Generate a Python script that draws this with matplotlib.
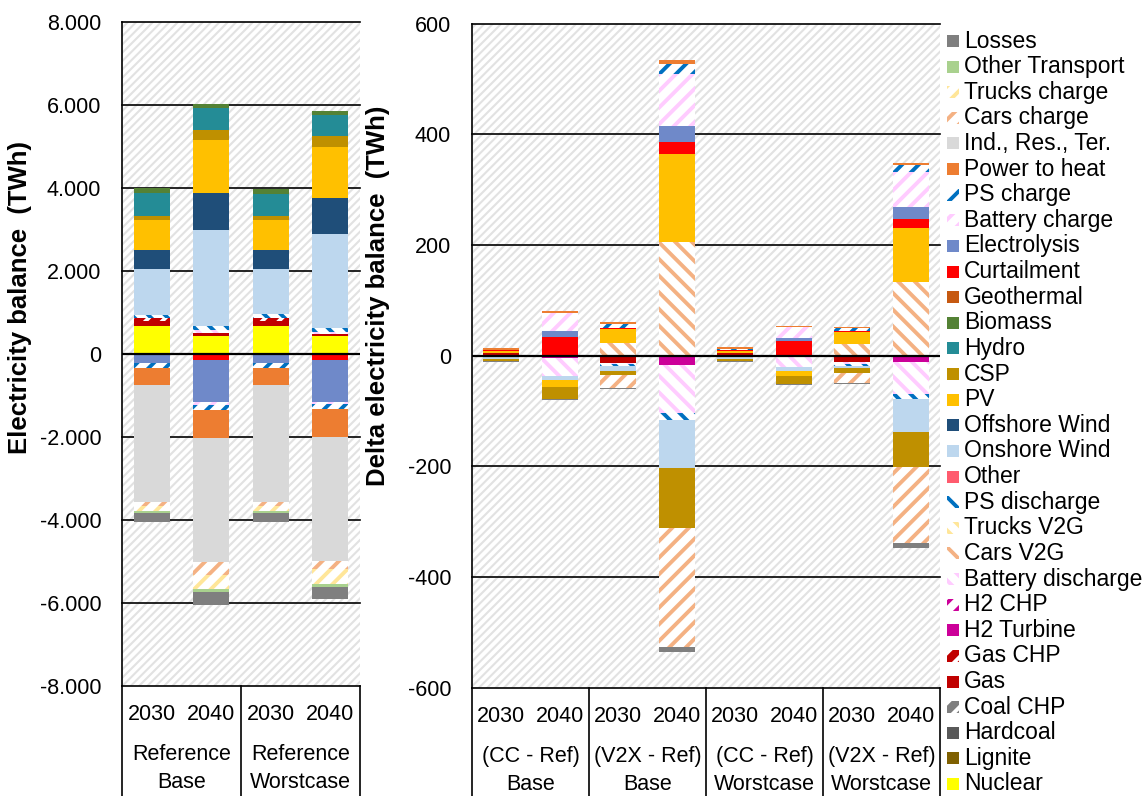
import numpy as np
import matplotlib
matplotlib.use("Agg")
import matplotlib.pyplot as plt
import matplotlib.transforms as mtransforms
from matplotlib.patches import Rectangle
from matplotlib.ticker import FuncFormatter, FixedLocator

plt.rcParams['font.family'] = ['Liberation Sans', 'DejaVu Sans']
plt.rcParams['hatch.linewidth'] = 2.8

# ---------------------------------------------------------------- data
# Series in stacking order (first series sits next to the zero line)
series = ["Nuclear", "Lignite", "Hardcoal", "Coal CHP", "Gas", "Gas CHP",
          "H2 Turbine", "H2 CHP", "Battery discharge", "Cars V2G", "Trucks V2G",
          "PS discharge", "Other", "Onshore Wind", "Offshore Wind", "PV", "CSP",
          "Hydro", "Biomass", "Geothermal", "Curtailment", "Electrolysis",
          "Battery charge", "PS charge", "Power to heat", "Ind., Res., Ter.",
          "Cars charge", "Trucks charge", "Other Transport", "Losses"]

ref_years = ["2030", "2040", "2030", "2040"]
ref_groups = [("Reference", "Base"), ("Reference", "Worstcase")]

delta_years = ["2030", "2040"] * 4
delta_groups = [("(CC - Ref)", "Base"), ("(V2X - Ref)", "Base"),
                ("(CC - Ref)", "Worstcase"), ("(V2X - Ref)", "Worstcase")]

# Reference scenarios, TWh (Base 2030, Base 2040, Worstcase 2030, Worstcase 2040)
ref_nuclear = [664, 424, 664, 424]
ref_lignite = [0, 0, 0, 0]
ref_hardcoal = [0, 0, 0, 0]
ref_coal_chp = [0, 0, 0, 0]
ref_gas = [130, 73, 136, 56]
ref_gas_chp = [70, 0, 70, 0]
ref_h2_turbine = [0, 0, 0, 0]
ref_h2_chp = [0, 0, 0, 0]
ref_battery_discharge = [0, 65, 0, 40]
ref_cars_v2g = [0, 0, 0, 0]
ref_trucks_v2g = [0, 0, 0, 0]
ref_ps_discharge = [80, 96, 80, 104]
ref_other = [0, 0, 0, 0]
ref_onshore = [1104, 2314, 1088, 2256]
ref_offshore = [456, 898, 464, 880]
ref_pv = [720, 1268, 720, 1224]
ref_csp = [104, 260, 88, 248]
ref_hydro = [536, 530, 536, 528]
ref_biomass = [120, 87, 128, 96]
ref_geothermal = [0, 0, 0, 0]
ref_curtailment = [-40, -161, -40, -160]
ref_electrolysis = [-194, -989, -194, -990]
ref_battery_charge = [0, -72, 0, -56]
ref_ps_charge = [-113, -144, -113, -120]
ref_power_to_heat = [-417, -668, -417, -684]
ref_ind_res_ter = [-2812, -2988, -2812, -2972]
ref_cars_charge = [-96, -297, -96, -200]
ref_trucks_charge = [-112, -345, -112, -361]
ref_other_transport = [-48, -81, -48, -65]
ref_losses = [-226, -297, -210, -297]

# Differences to the reference, TWh (CC/V2X x Base/Worstcase x 2030/2040)
dlt_nuclear = [0, 0, 0, 0, 0, 0, 0, 0]
dlt_lignite = [0, 0, 0, 0, 0, 0, 0, 0]
dlt_hardcoal = [0, 0, 0, 0, 0, 0, 0, 0]
dlt_coal_chp = [0, 0, 0, 0, 0, 0, 0, 0]
dlt_gas = [4, 0, -12.5, 0, 4, 0, -12, 0]
dlt_gas_chp = [0, 0, 0, 0, 0, 0, 0, 0]
dlt_h2_turbine = [0, -4, 0, -17, 0, -2, 0, -11.4]
dlt_h2_chp = [0, 0, 0, 0, 0, 0, 0, 0]
dlt_battery_discharge = [-3, -32, -3, -87, -3, -18, -2.4, -58]
dlt_cars_v2g = [0, 0, 23.5, 205, 0, 0, 21, 134]
dlt_trucks_v2g = [0, 0, 0, 0, 0, 0, 0, 0]
dlt_ps_discharge = [0, 0, -4, -12, 0, 0, -3.6, -9]
dlt_other = [0, 0, 0, 0, 0, 0, 0, 0]
dlt_onshore = [-3, -8.4, -8, -87.5, -3, -8.4, -4.2, -59]
dlt_offshore = [0, 0, 0, 0, 0, 0, 0, 0]
dlt_pv = [4.2, -11.4, 25, 159, 4, -8.4, 21, 97.5]
dlt_csp = [-4, -21.7, -8, -107.5, -4, -15, -9, -64]
dlt_hydro = [0, 0, 0, 0, 0, 0, 0, 0]
dlt_biomass = [0, 0, 0, 0, 0, 0, 0, 0]
dlt_geothermal = [0, 0, 0, 0, 0, 0, 0, 0]
dlt_curtailment = [3, 33, 2.4, 21.7, 3, 26, 3, 16]
dlt_electrolysis = [0, 11, 0, 30, 0, 6, 0, 20.5]
dlt_battery_charge = [0, 34, 0, 94, 0, 20, 0, 64.4]
dlt_ps_charge = [0, 0, 7, 18, 1.5, 0, 5, 12]
dlt_power_to_heat = [2.4, 3.6, 3, 6, 2.4, 2.4, 2.4, 3.6]
dlt_ind_res_ter = [0, 0, 0, 0, 0, 0, 0, 0]
dlt_cars_charge = [0, 0, -23, -215, 0, 0, -19, -137.5]
dlt_trucks_charge = [0, 0, 0, 0, 0, 0, 0, 0]
dlt_other_transport = [0, 0, 0, 0, 0, 0, 0, 0]
dlt_losses = [-1, -2, -1.5, -9, -1, -1, -1.2, -9]

ref_values = dict(zip(series, [
    ref_nuclear, ref_lignite, ref_hardcoal, ref_coal_chp, ref_gas, ref_gas_chp,
    ref_h2_turbine, ref_h2_chp, ref_battery_discharge, ref_cars_v2g, ref_trucks_v2g,
    ref_ps_discharge, ref_other, ref_onshore, ref_offshore, ref_pv, ref_csp,
    ref_hydro, ref_biomass, ref_geothermal, ref_curtailment, ref_electrolysis,
    ref_battery_charge, ref_ps_charge, ref_power_to_heat, ref_ind_res_ter,
    ref_cars_charge, ref_trucks_charge, ref_other_transport, ref_losses]))

dlt_values = dict(zip(series, [
    dlt_nuclear, dlt_lignite, dlt_hardcoal, dlt_coal_chp, dlt_gas, dlt_gas_chp,
    dlt_h2_turbine, dlt_h2_chp, dlt_battery_discharge, dlt_cars_v2g, dlt_trucks_v2g,
    dlt_ps_discharge, dlt_other, dlt_onshore, dlt_offshore, dlt_pv, dlt_csp,
    dlt_hydro, dlt_biomass, dlt_geothermal, dlt_curtailment, dlt_electrolysis,
    dlt_battery_charge, dlt_ps_charge, dlt_power_to_heat, dlt_ind_res_ter,
    dlt_cars_charge, dlt_trucks_charge, dlt_other_transport, dlt_losses]))

# ---------------------------------------------------------------- styles
# kind: "solid", "up" / "down" (coloured stripes on white), "chp" (white stripes on colour)
styles = {
    "Nuclear": ("#ffff00", "solid"),
    "Lignite": ("#7f6000", "solid"),
    "Hardcoal": ("#595959", "solid"),
    "Coal CHP": ("#7f7f7f", "chp"),
    "Gas": ("#c00000", "solid"),
    "Gas CHP": ("#c00000", "chp"),
    "H2 Turbine": ("#cc0099", "solid"),
    "H2 CHP": ("#cc0099", "up"),
    "Battery discharge": ("#ffccff", "down"),
    "Cars V2G": ("#f4b183", "down"),
    "Trucks V2G": ("#ffe699", "down"),
    "PS discharge": ("#0070c0", "down"),
    "Other": ("#ff5b6e", "solid"),
    "Onshore Wind": ("#bdd7ee", "solid"),
    "Offshore Wind": ("#1f4e79", "solid"),
    "PV": ("#ffc000", "solid"),
    "CSP": ("#bf9000", "solid"),
    "Hydro": ("#248c96", "solid"),
    "Biomass": ("#548235", "solid"),
    "Geothermal": ("#c65911", "solid"),
    "Curtailment": ("#ff0000", "solid"),
    "Electrolysis": ("#6f89c9", "solid"),
    "Battery charge": ("#ffccff", "up"),
    "PS charge": ("#0070c0", "up"),
    "Power to heat": ("#ed7d31", "solid"),
    "Ind., Res., Ter.": ("#d9d9d9", "solid"),
    "Cars charge": ("#f4b183", "up"),
    "Trucks charge": ("#ffe699", "up"),
    "Other Transport": ("#a9d18e", "solid"),
    "Losses": ("#7f7f7f", "solid"),
}


def patch_kw(name):
    color, kind = styles[name]
    if kind == "solid":
        return dict(facecolor=color, edgecolor=color, linewidth=0)
    if kind == "chp":
        return dict(facecolor=color, edgecolor="white", hatch="//", linewidth=0)
    return dict(facecolor="white", edgecolor=color, linewidth=0,
                hatch="//" if kind == "up" else "\\\\")


def set_hatch_lw(p, lw):
    if hasattr(p, "set_hatch_linewidth"):
        p.set_hatch_linewidth(lw)


FS_TICK = 15.5
FS_LABEL = 18.5
FS_LEG = 16.5

W, H = 1146, 796
fig = plt.figure(figsize=(W / 100, H / 100), dpi=100)


def fx(px):
    return px / W


def fy(py):
    return 1 - py / H


def make_axes(left, right, top, bottom):
    return fig.add_axes([fx(left), fy(bottom), (right - left) / W, (bottom - top) / H])


def draw_panel(ax, values, years, groups, lim, step, fmt, ylabel, label_xy):
    n = len(years)
    x = np.arange(n)
    ax.set_xlim(-0.5, n - 0.5)
    ax.set_ylim(-lim, lim)

    # patterned plot-area background
    bg = Rectangle((0, 0), 1, 1, transform=ax.transAxes, facecolor="white",
                   edgecolor="#e2e2e2", hatch="////", linewidth=0, zorder=0)
    set_hatch_lw(bg, 1.5)
    ax.add_patch(bg)

    ticks = np.arange(-lim, lim + step / 2, step)
    for t in ticks:
        if t != 0:
            ax.axhline(t, color="black", lw=1.2, zorder=1, clip_on=False)
    ax.axhline(0, color="black", lw=1.6, zorder=5)

    pos = np.zeros(n)
    neg = np.zeros(n)
    for name in series:
        v = np.asarray(values[name], dtype=float)
        bottom = np.where(v >= 0, pos, neg)
        bars = ax.bar(x, v, width=0.61, bottom=bottom, zorder=2, **patch_kw(name))
        for b in bars:
            set_hatch_lw(b, 2.8)
        pos += np.clip(v, 0, None)
        neg += np.clip(v, None, 0)

    ax.yaxis.set_major_locator(FixedLocator(ticks))
    ax.yaxis.set_major_formatter(FuncFormatter(fmt))
    ax.tick_params(axis="y", length=0, labelsize=FS_TICK, pad=15)
    ax.set_xticks([])
    for s in ("top", "right", "bottom"):
        ax.spines[s].set_visible(False)
    ax.spines["left"].set_linewidth(1.2)
    ax.spines["left"].set_zorder(6)
    ax.set_ylabel(ylabel, fontsize=FS_LABEL, fontweight="bold")
    ax.yaxis.set_label_coords(*label_xy)

    # multi-level category axis below the plot area
    trans = mtransforms.blended_transform_factory(ax.transData, ax.transAxes)
    ax_h = ax.get_position().height * H

    def below(px):
        return -px / ax_h

    for i, yr in enumerate(years):
        ax.text(i, below(29), yr, transform=trans, ha="center", va="center",
                fontsize=FS_TICK)
    for g, (l1, l2) in enumerate(groups):
        xc = 2 * g + 0.5
        ax.text(xc, below(69), l1, transform=trans, ha="center", va="center",
                fontsize=FS_TICK)
        ax.text(xc, below(97), l2, transform=trans, ha="center", va="center",
                fontsize=FS_TICK)
    for g in range(len(groups) + 1):
        ax.plot([2 * g - 0.5, 2 * g - 0.5], [0, below(120)], transform=trans,
                color="black", lw=1.2, clip_on=False, zorder=6)


def fmt_ref(v, _):
    return "0" if v == 0 else f"{v / 1000:.3f}"


def fmt_dlt(v, _):
    return f"{v:.0f}"


axL = make_axes(122, 360, 21.5, 686)
draw_panel(axL, ref_values, ref_years, ref_groups, 8000, 2000, fmt_ref,
           "Electricity balance  (TWh)", (-0.38, 0.585))

axR = make_axes(472, 940, 23.6, 687.8)
draw_panel(axR, dlt_values, delta_years, delta_groups, 600, 200, fmt_dlt,
           "Delta electricity balance  (TWh)", (-0.175, 0.59))

# legend, listed in reverse stacking order
for i, name in enumerate(reversed(series)):
    yc = 41 + i * 25.62
    r = Rectangle((fx(947), fy(yc + 6)), 12 / W, 12 / H, transform=fig.transFigure,
                  **patch_kw(name))
    set_hatch_lw(r, 2.8)
    fig.patches.append(r)
    fig.text(fx(964), fy(yc), name, ha="left", va="center", fontsize=FS_LEG)

fig.savefig("out.png", dpi=100, facecolor="white")
